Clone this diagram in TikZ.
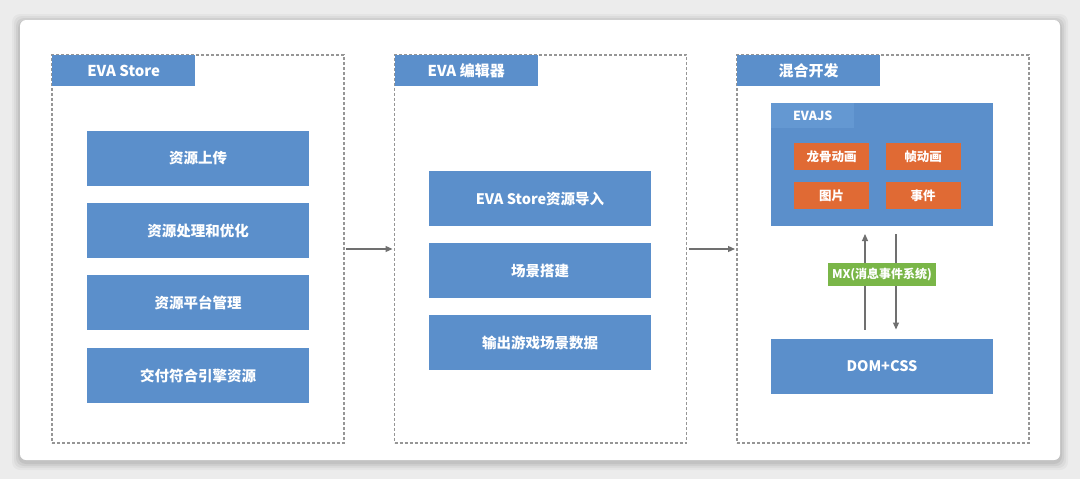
\documentclass[tikz,border=0pt]{standalone}
\usepackage{fontspec}
\setmainfont{Noto Sans CJK SC}
\usepackage{xcolor}
\definecolor{evablue}{RGB}{91,143,203}
\definecolor{evatab}{RGB}{100,152,210}
\definecolor{evaorange}{RGB}{224,106,52}
\definecolor{evagreen}{RGB}{122,182,72}
\definecolor{evagray}{RGB}{112,112,112}
\definecolor{evadash}{RGB}{150,150,150}
\definecolor{evaback}{RGB}{236,236,236}
\usetikzlibrary{arrows.meta, positioning, calc}

\tikzset{
  panel/.style={draw=evadash, line width=1.1pt, dash pattern=on 3pt off 2pt,
    minimum width=292pt, minimum height=388pt, inner sep=0pt, outer sep=0pt},
  tab/.style={fill=evablue, text=white, font=\fontsize{15}{17}\selectfont\bfseries,
    minimum width=143pt, minimum height=31pt, inner sep=0pt},
  bluebox/.style={fill=evablue, text=white, font=\fontsize{14.5}{16}\selectfont\bfseries,
    minimum width=222pt, minimum height=55pt, inner sep=0pt, outer sep=0pt},
  orangebox/.style={fill=evaorange, text=white, font=\fontsize{12.5}{14}\selectfont\bfseries,
    minimum width=75pt, minimum height=27pt, inner sep=0pt},
  flow/.style={-{Triangle[length=7pt, width=6pt]}, evagray, line width=1.2pt}
}

\begin{document}
\begin{tikzpicture}[x=1pt, y=-1pt]

% === background card ===
\fill[evaback] (0,0) rectangle (1080,479);
\foreach \s/\o in {8/0.03, 6/0.04, 4/0.05, 2/0.06} {
  \fill[black, opacity=\o, rounded corners=8pt] (20-\s,20-\s+2) rectangle (1060+\s,460+\s+2);
}
\fill[white, rounded corners=6pt] (20,20) rectangle (1060,460);

% === EVA Store (left) ===
\node[panel] (store) at (198,249) {};
\node[tab, anchor=north west] (storetab) at (store.north west) {EVA Store};
\node[bluebox] (upload) at (198,158) {资源上传};
\node[bluebox] (optimize) at (198,230.5) {资源处理和优化};
\node[bluebox] (manage) at (198,302.5) {资源平台管理};
\node[bluebox] (deliver) at (198,375.5) {交付符合引擎资源};

% === EVA editor (middle) ===
\node[panel] (editor) at (540.5,249) {};
\node[tab, anchor=north west] (editortab) at (editor.north west) {EVA 编辑器};
\node[bluebox] (import) at (540,198.5) {EVA Store资源导入};
\node[bluebox] (scene) at (540,270.5) {场景搭建};
\node[bluebox] (export) at (540,342.5) {输出游戏场景数据};

% === mixed development (right) ===
\node[panel] (mixed) at (883,249) {};
\node[tab, anchor=north west] (mixedtab) at (mixed.north west) {混合开发};

% EVAJS block
\node[fill=evablue, minimum width=222pt, minimum height=123pt, inner sep=0pt, outer sep=0pt] (evajs) at (882,164.5) {};
\node[fill=evatab, text=white, font=\fontsize{12.5}{14}\selectfont\bfseries, minimum width=83pt,
      minimum height=25pt, inner sep=0pt, anchor=north west] (evajstab) at (evajs.north west) {EVAJS};
\node[orangebox] (dragon) at (831.5,156.5) {龙骨动画};
\node[orangebox] (frame) at (923,156.5) {帧动画};
\node[orangebox] (image) at (831.5,195.5) {图片};
\node[orangebox] (event) at (923,195.5) {事件};

% DOM block
\node[bluebox] (dom) at (882,366) {DOM+CSS};

% message arrows
\draw[flow, shorten <=9pt, shorten >=8pt] ([xshift=-17pt]dom.north) -- ([xshift=-17pt]evajs.south);
\draw[flow, shorten <=8pt, shorten >=9pt] ([xshift=14pt]evajs.south) -- ([xshift=14pt]dom.north);
\node[fill=evagreen, text=white, font=\fontsize{12}{13}\selectfont\bfseries, minimum width=108pt,
      minimum height=23pt, inner sep=0pt] (mx) at (882,274.5) {MX(消息事件系统)};

% flow between panels
\draw[flow, shorten <=2pt, shorten >=2pt] (store.east) -- (editor.west);
\draw[flow, shorten <=2pt, shorten >=2pt] (editor.east) -- (mixed.west);

\end{tikzpicture}
\end{document}
